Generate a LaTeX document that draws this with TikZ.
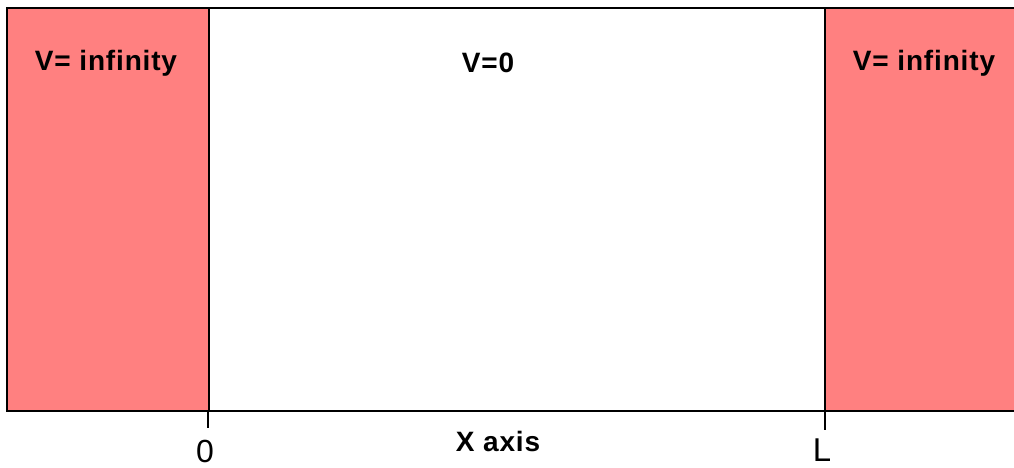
\documentclass[tikz,border=0pt]{standalone}
\usepackage{fontspec}
\setmainfont{Liberation Sans}
\usepackage{tikz}
\usetikzlibrary{positioning}
\definecolor{wallRed}{HTML}{FF8080}

\begin{document}
\begin{tikzpicture}[x=1pt, y=-1pt, line width=2pt, font=\fontsize{28}{32}\selectfont\bfseries\addfontfeature{LetterSpace=3}]
    \useasboundingbox (0,0) rectangle (1014,468);
    \fill[wallRed] (7,8) rectangle (209,411);
    \fill[wallRed] (825,8) rectangle (1014,411);
    \draw (1014,8) -- (7,8) -- (7,411) -- (1014,411);
    \draw (209,8) -- (209,411);
    \draw (825,8) -- (825,411);
    \coordinate (zero) at (208,428);
    \coordinate (ell) at (825,430);
    \draw (208,411) -- (zero);
    \draw (825,411) -- (ell);
    \node (leftwall) at (106,63) {V= infinity};
    \node (rightwall) at (924,63) {V= infinity};
    \node (well) at (488,63) {V=0};
    \node (xaxis) at (498,441) {X axis};
    \node[below=11pt of zero, inner sep=0pt, font=\fontsize{32}{36}\selectfont, xshift=-3pt] (zerolabel) {0};
    \node[below=8pt of ell, inner sep=0pt, font=\fontsize{33}{36}\selectfont, xshift=-3pt] (elllabel) {L};
\end{tikzpicture}
\end{document}
